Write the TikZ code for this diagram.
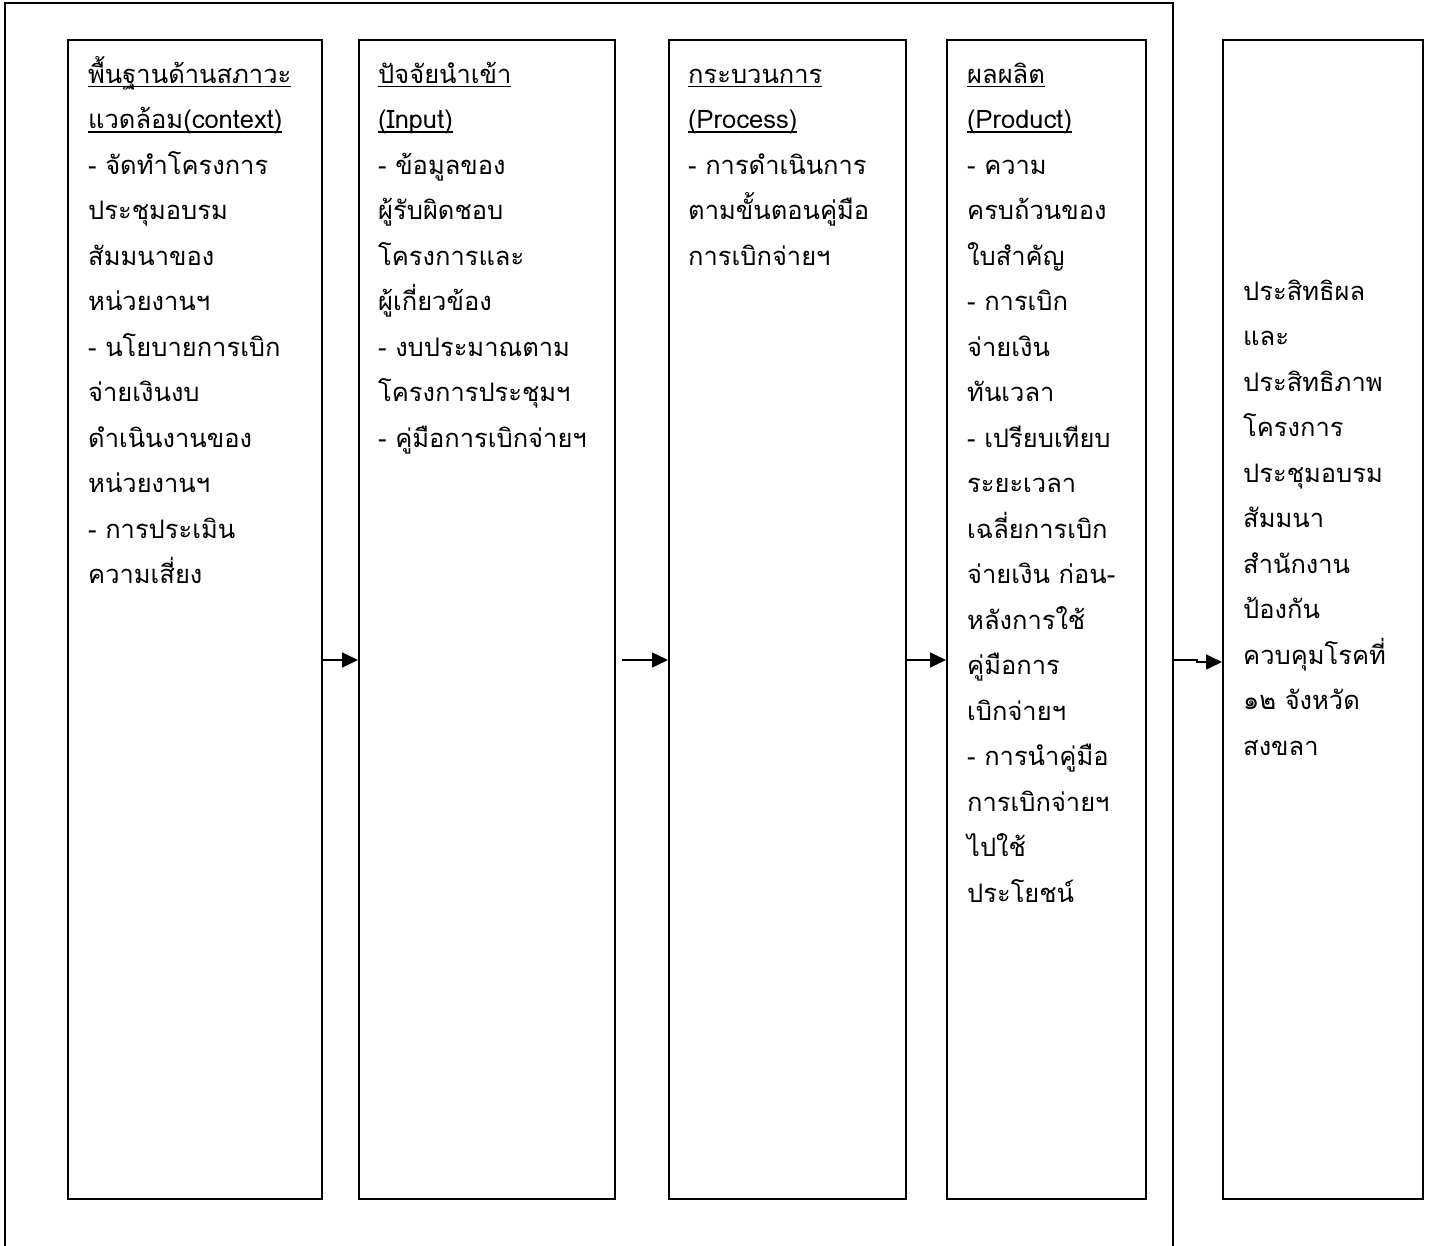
\documentclass[tikz,border=0pt]{standalone}
\usepackage{fontspec}
\newfontfamily\thaifont[Script=Thai]{Loma}
\usetikzlibrary{arrows.meta}
\newcommand*{\hdline}[1]{\setbox0\hbox{#1}\rlap{\rule[-4pt]{\wd0}{1.3pt}}\box0}
\newcommand*{\firstline}{\rule{0pt}{32pt}}

\begin{document}
\begin{tikzpicture}[x=1pt,y=-1pt,
  box/.style={draw,line width=1.6pt,minimum height=1159pt,inner sep=0pt,anchor=north west},
  txt/.style={anchor=north west,align=left,inner sep=0pt,font=\thaifont\fontsize{25.5}{45.5}\selectfont},
  arr/.style={line width=1.6pt,-{Triangle[length=16pt,width=15pt]}}]
%\draw[help lines,step=100](0,0)grid(1432,1245);
\useasboundingbox(0,0)rectangle(1432,1245);
\fill[white](0,0)rectangle(1432,1245);
\clip(0,0)rectangle(1432,1245);
\draw[line width=1.6pt](5,1260)--(5,3)--(1173,3)--(1173,1260);

\node[box,minimum width=254pt](ctx)at(67,39){};
\node[box,minimum width=256pt](inp)at(358,39){};
\node[box,minimum width=237pt](proc)at(668,39){};
\node[box,minimum width=199pt](prod)at(946,39){};
\node[box,minimum width=200pt](eff)at(1222,39){};

\node[txt](ctxtext)at([shift={(21,12)}]ctx.north west){\firstline\hdline{พื้นฐานด้านสภาวะ}\\\hdline{แวดล้อม(context)}\\- จัดทำโครงการ\\ประชุมอบรม\\สัมมนาของ\\หน่วยงานฯ\\- นโยบายการเบิก\\จ่ายเงินงบ\\ดำเนินงานของ\\หน่วยงานฯ\\- การประเมิน\\ความเสี่ยง};
\node[txt](inptext)at([shift={(20,12)}]inp.north west){\firstline\hdline{ปัจจัยนำเข้า}\\\hdline{(Input)}\\- ข้อมูลของ\\ผู้รับผิดชอบ\\โครงการและ\\ผู้เกี่ยวข้อง\\- งบประมาณตาม\\โครงการประชุมฯ\\- คู่มือการเบิกจ่ายฯ};
\node[txt](proctext)at([shift={(20,12)}]proc.north west){\firstline\hdline{กระบวนการ}\\\hdline{(Process)}\\- การดำเนินการ\\ตามขั้นตอนคู่มือ\\การเบิกจ่ายฯ};
\node[txt](prodtext)at([shift={(21,12)}]prod.north west){\firstline\hdline{ผลผลิต}\\\hdline{(Product)}\\- ความ\\ครบถ้วนของ\\ใบสำคัญ\\- การเบิก\\จ่ายเงิน\\ทันเวลา\\- เปรียบเทียบ\\ระยะเวลา\\เฉลี่ยการเบิก\\จ่ายเงิน ก่อน-\\หลังการใช้\\คู่มือการ\\เบิกจ่ายฯ\\- การนำคู่มือ\\การเบิกจ่ายฯ\\ไปใช้\\ประโยชน์};
\node[txt](efftext)at([shift={(21,229)}]eff.north west){\firstline ประสิทธิผล\\และ\\ประสิทธิภาพ\\โครงการ\\ประชุมอบรม\\สัมมนา\\สำนักงาน\\ป้องกัน\\ควบคุมโรคที่\\๑๒ จังหวัด\\สงขลา};

\coordinate(mid)at(0,660);
\coordinate(frameedge)at(1173,660);
\coordinate(kink)at(1197,660);
\draw[arr](ctx.east|-mid)--(inp.west|-mid);
\draw[arr,shorten <=6pt](inp.east|-mid)--(proc.west|-mid);
\draw[arr](proc.east|-mid)--(prod.west|-mid);
\draw[arr](frameedge)--(kink)--++(0,2)--(eff.west|-0,662);
\end{tikzpicture}
\end{document}
